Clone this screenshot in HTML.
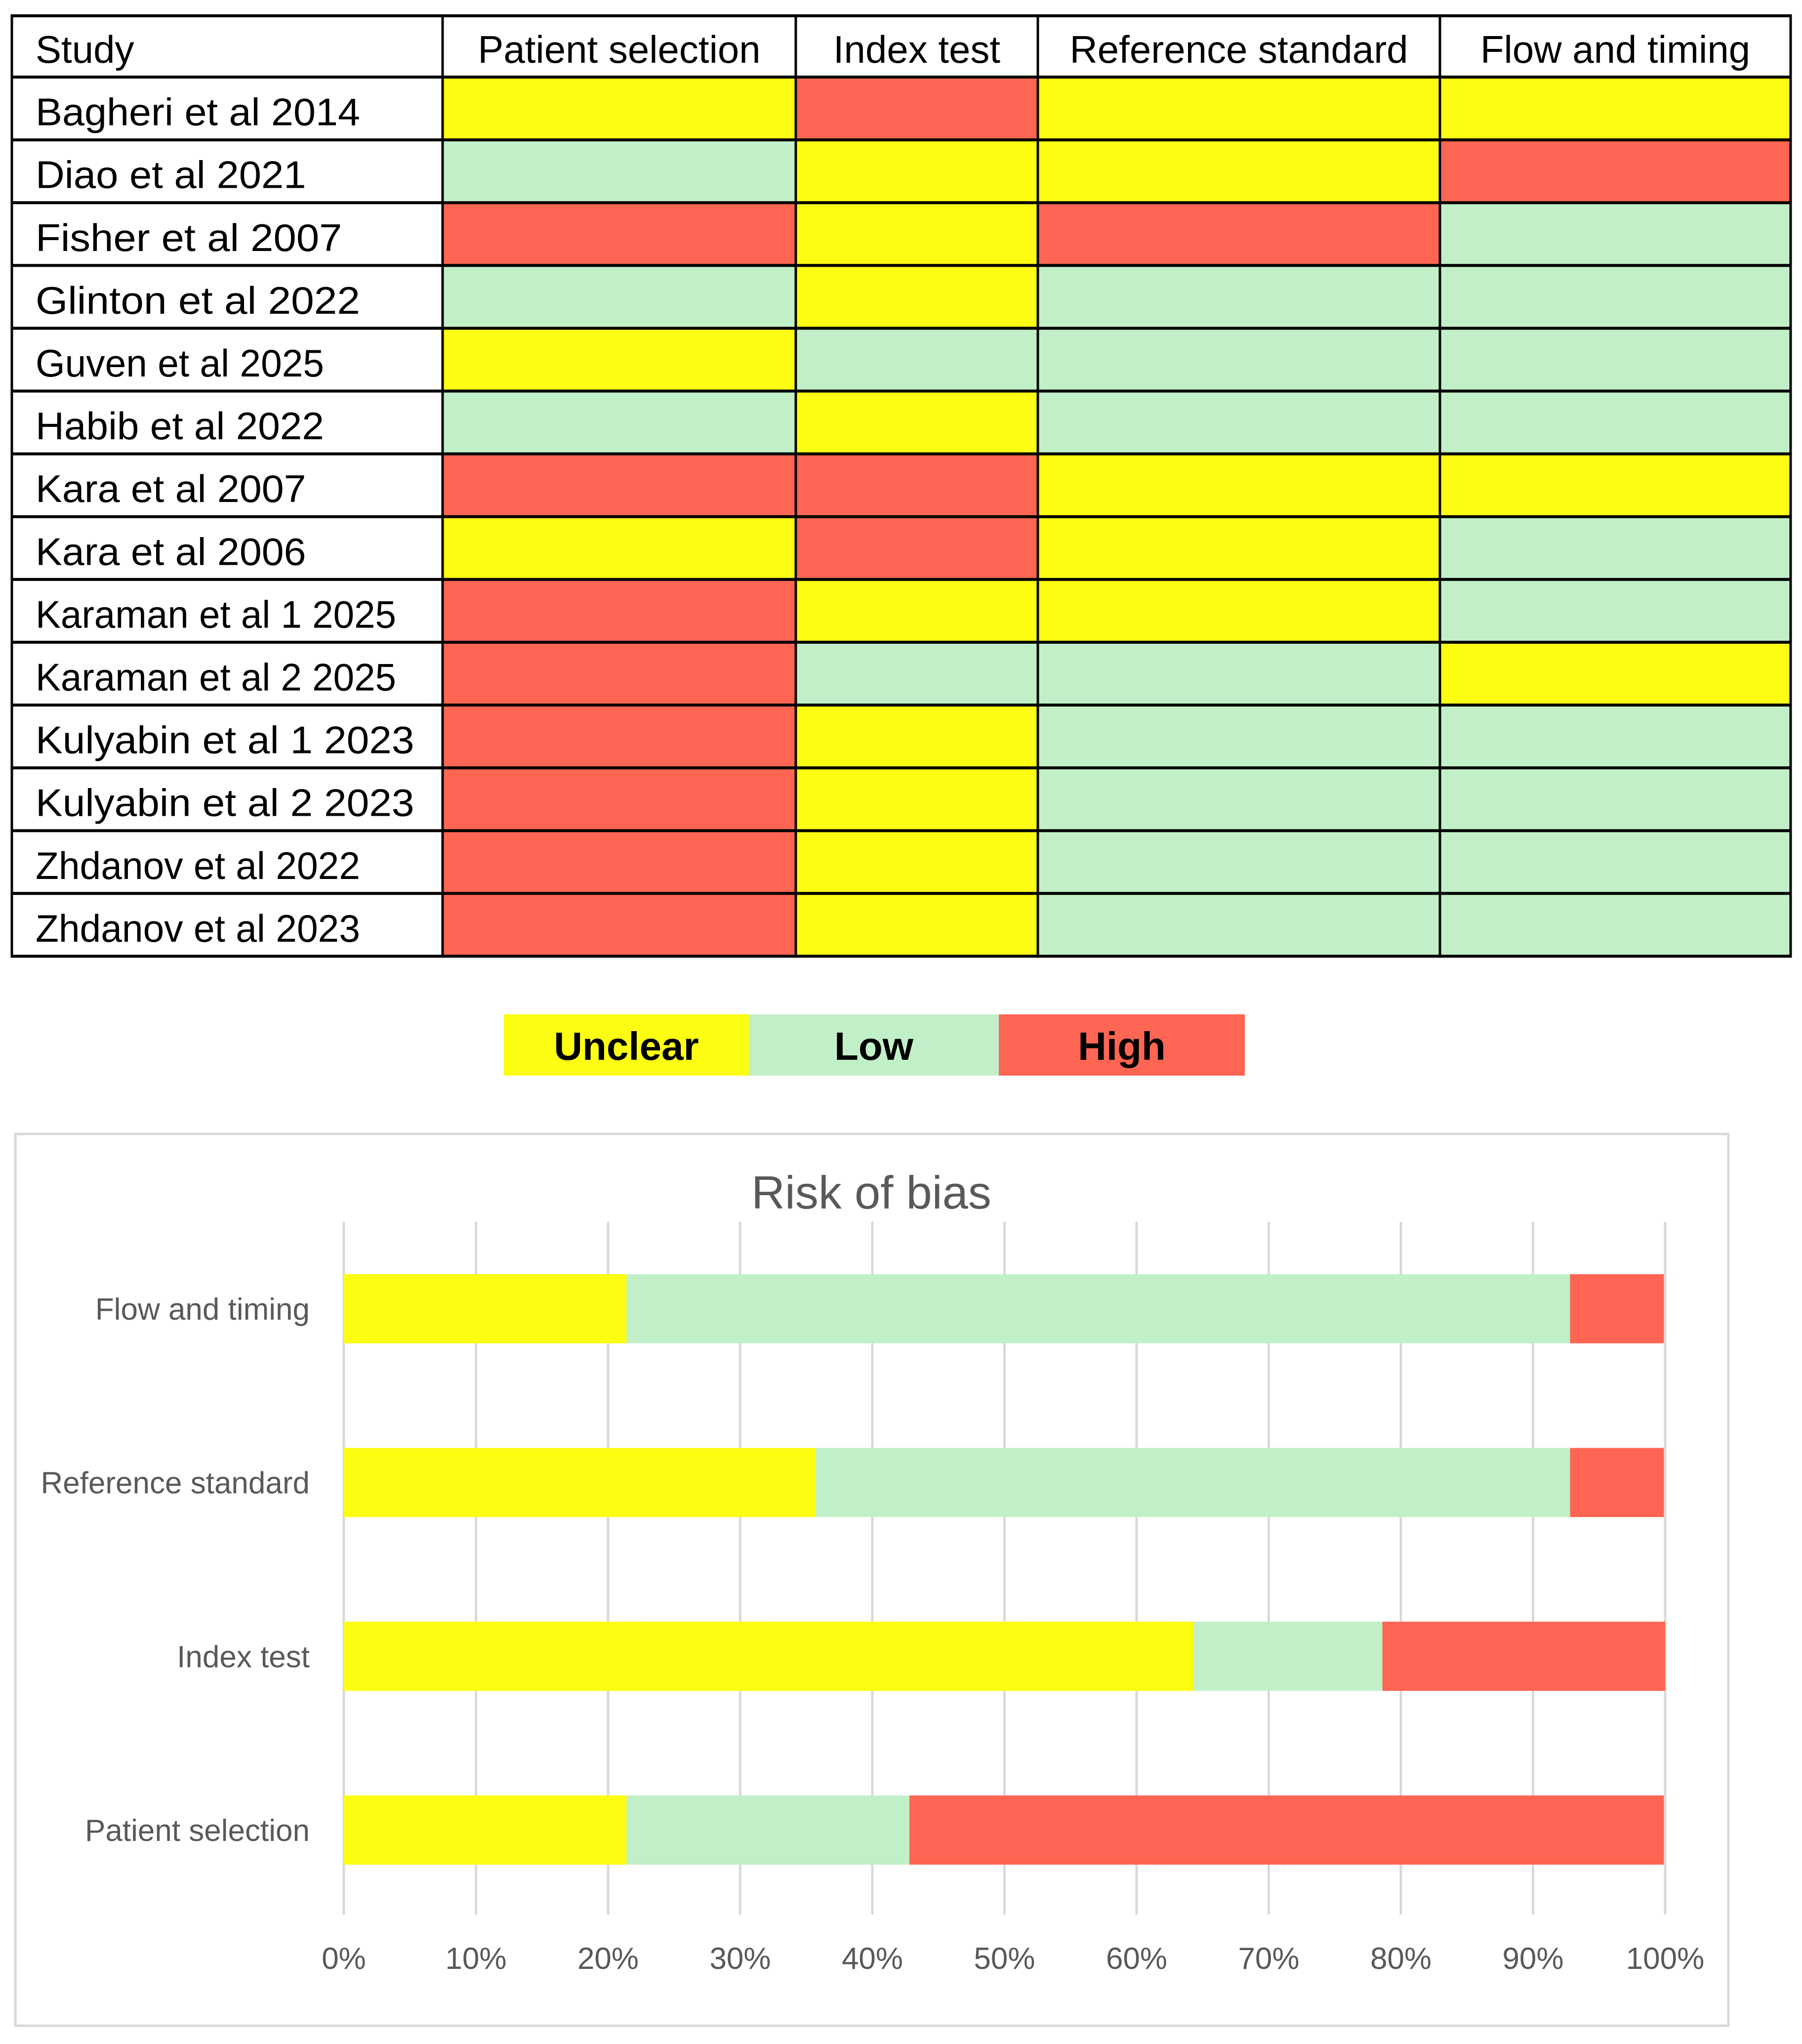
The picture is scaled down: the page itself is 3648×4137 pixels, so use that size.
<!DOCTYPE html>
<html><head><meta charset="utf-8"><style>
html,body{margin:0;padding:0;background:#fff;}
svg{display:block;}
</style></head><body>
<svg id="root" xmlns="http://www.w3.org/2000/svg" width="3648" height="4137" viewBox="0 0 3648 4137">
<g id="table"></g>
<g id="legend"></g>
<g id="chart"></g>
</svg>
<script>
const studies = ["Bagheri et al 2014","Diao et al 2021","Fisher et al 2007","Glinton et al 2022","Guven et al 2025","Habib et al 2022","Kara et al 2007","Kara et al 2006","Karaman et al 1 2025","Karaman et al 2 2025","Kulyabin et al 1 2023","Kulyabin et al 2 2023","Zhdanov et al 2022","Zhdanov et al 2023"];
const domains = ["Patient selection","Index test","Reference standard","Flow and timing"];
const patientSel = ["U","L","H","L","U","L","H","U","H","H","H","H","H","H"];
const indexTest  = ["H","U","U","U","L","U","H","H","U","L","U","U","U","U"];
const refStd     = ["U","U","H","L","L","L","U","U","U","L","L","L","L","L"];
const flowTiming = ["U","H","L","L","L","L","U","L","L","U","L","L","L","L"];
const chartCats = ["Flow and timing","Reference standard","Index test","Patient selection"];
const unclearPct = [21.4,35.7,64.3,21.4];
const lowPct     = [71.4,57.1,14.3,21.4];
const highPct    = [7.1,7.1,21.4,57.1];
const tickLabels = ["0%","10%","20%","30%","40%","50%","60%","70%","80%","90%","100%"];
const legendLabels = ["Unclear","Low","High"];

const NS="http://www.w3.org/2000/svg";
const COL={U:"#FDFD14",L:"#C1F0C8",H:"#FE6553"};
function mk(parent,tag,attrs,text){const e=document.createElementNS(NS,tag);for(const k in attrs)e.setAttribute(k,attrs[k]);if(text!==undefined)e.textContent=text;parent.appendChild(e);return e;}

// ---- table ----
const tbl=document.getElementById('table');
const colX=[24,896,1611,2101,2915,3625];
const top0=32, headH=124, rowH=127.1;
const cols=[patientSel,indexTest,refStd,flowTiming];
const font='"Liberation Sans", sans-serif';
studies.forEach((s,i)=>{
  const y=top0+headH+i*rowH;
  cols.forEach((arr,j)=>{
    const r=mk(tbl,'rect',{x:colX[j+1],y:y,width:colX[j+2]-colX[j+1],height:rowH,fill:COL[arr[i]]});
    
    
  });
  const t=mk(tbl,'text',{x:72,y:y+rowH/2+34,'font-family':font,'font-size':78,fill:'#000',textLength:(s.length*36.5),lengthAdjust:'spacingAndGlyphs'},s);
  
  
});
const ht=mk(tbl,'text',{x:72,y:top0+headH/2+33,'font-family':font,'font-size':78,fill:'#000'},"Study");


domains.forEach((d,j)=>{
  const t=mk(tbl,'text',{x:(colX[j+1]+colX[j+2])/2,y:top0+headH/2+33,'font-family':font,'font-size':78,fill:'#000','text-anchor':'middle'},d);
  
  
});
const bottom=top0+headH+studies.length*rowH;
for(let i=0;i<=studies.length+1;i++){
  const y=i===0?top0:top0+headH+(i-1)*rowH;
  mk(tbl,'line',{x1:colX[0],x2:colX[5],y1:y,y2:y,stroke:'#000','stroke-width':6});
}
colX.forEach(x=>mk(tbl,'line',{x1:x,x2:x,y1:top0-3,y2:bottom+3,stroke:'#000','stroke-width':5}));

// ---- legend ----
const lg=document.getElementById('legend');
const lgX=[1020,1516,2022,2520];
["U","L","H"].forEach((k,i)=>{
  const r=mk(lg,'rect',{x:lgX[i],y:2053,width:lgX[i+1]-lgX[i],height:124,fill:COL[k]});
  
  
  const t=mk(lg,'text',{x:(lgX[i]+lgX[i+1])/2,y:2145,'font-family':font,'font-size':80,'font-weight':'bold',fill:'#000','text-anchor':'middle'},legendLabels[i]);
  
  
});

// ---- chart ----
const ch=document.getElementById('chart');
mk(ch,'rect',{x:31,y:2295,width:3468,height:1805,fill:'#fff',stroke:'#d9d9d9','stroke-width':5});
const title=mk(ch,'text',{x:1764,y:2446,'font-family':font,'font-size':94,fill:'#595959','text-anchor':'middle'},"Risk of bias");


const x0=696,x1=3371,gTop=2473,gBot=3875;
const xs=v=>x0+(x1-x0)*v/100;
const bandTop=2473, band=351.7, barH=140;
const ys=i=>bandTop+i*band+(band-barH)/2;
tickLabels.forEach((lab,i)=>{
  const v=i*10;
  mk(ch,'line',{x1:xs(v),x2:xs(v),y1:gTop,y2:gBot,stroke:'#d9d9d9','stroke-width':5});
  const t=mk(ch,'text',{x:xs(v),y:3985,'font-family':font,'font-size':62,fill:'#595959','text-anchor':'middle'},lab);
  
  
});
chartCats.forEach((c,i)=>{
  const y=ys(i);
  let acc=0;
  [[unclearPct,'U','unclear'],[lowPct,'L','low'],[highPct,'H','high']].forEach(([arr,k,nm])=>{
    const r=mk(ch,'rect',{x:xs(acc),y:y,width:xs(acc+arr[i])-xs(acc),height:barH,fill:COL[k]});
    
    
    acc+=arr[i];
  });
  const t=mk(ch,'text',{x:627,y:y+barH/2+22,'font-family':font,'font-size':62,fill:'#595959','text-anchor':'end'},c);
  
  
});
</script>
</body></html>
